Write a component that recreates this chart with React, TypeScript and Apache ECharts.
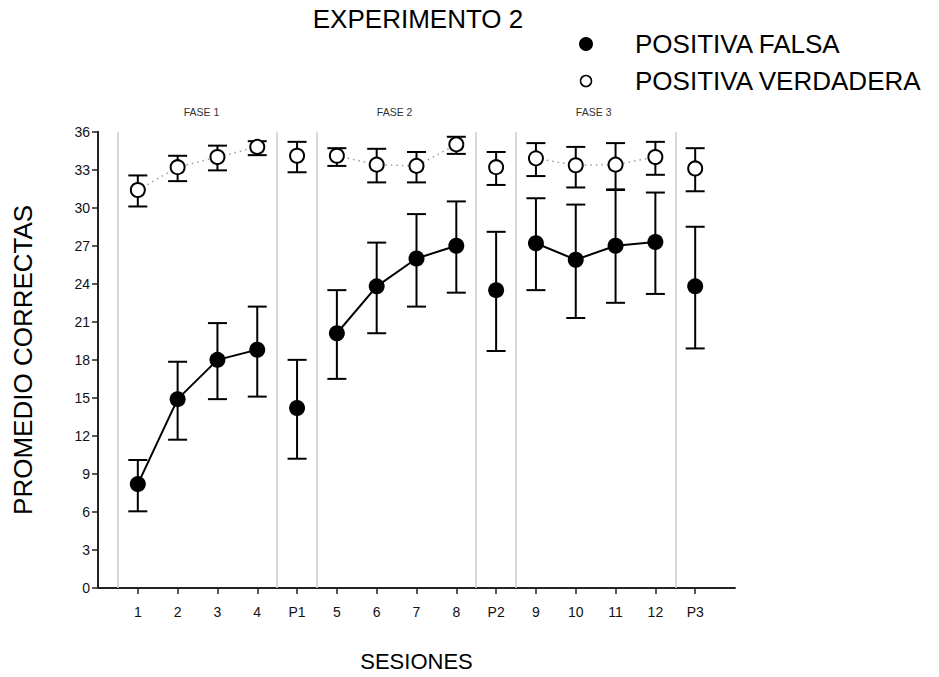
import React, { useEffect, useRef } from "react";
import * as echarts from "echarts";

const CATS = ["1", "2", "3", "4", "P1", "5", "6", "7", "8", "P2", "9", "10", "11", "12", "P3"];
const FALSA_MEAN = [8.2, 14.9, 18.0, 18.8, 14.2, 20.1, 23.8, 26.0, 27.0, 23.5, 27.2, 25.9, 27.0, 27.3, 23.8];
const FALSA_LOW = [6.05, 11.7, 14.9, 15.1, 10.2, 16.5, 20.1, 22.2, 23.3, 18.7, 23.5, 21.3, 22.5, 23.2, 18.9];
const FALSA_HIGH = [10.1, 17.85, 20.9, 22.2, 18.0, 23.5, 27.25, 29.5, 30.5, 28.1, 30.75, 30.25, 31.4, 31.2, 28.5];
const VERD_MEAN = [31.4, 33.2, 34.0, 34.8, 34.1, 34.1, 33.4, 33.3, 35.0, 33.2, 33.9, 33.35, 33.4, 34.0, 33.1];
const VERD_LOW = [30.1, 32.1, 32.95, 34.15, 32.8, 33.3, 32.0, 32.0, 34.25, 31.8, 32.5, 31.6, 31.45, 32.6, 31.3];
const VERD_HIGH = [32.55, 34.1, 34.9, 35.25, 35.2, 34.7, 34.65, 34.4, 35.6, 34.4, 35.1, 34.8, 35.1, 35.2, 34.7];
const SEPARATORS = [0.5, 4.5, 5.5, 9.5, 10.5, 14.5];
const PHASES = ["FASE 1", "FASE 2", "FASE 3"];
const PHASE_POS = [2.6, 7.45, 12.45];
const Y_TICKS = [0, 36, 3];

const FONT = "'Liberation Sans', Arial, Helvetica, sans-serif";
const GRID = { left: 98, right: 204, top: 131.7, bottom: 83.7 };
const W = 939;
const H = 677;
const X_MAX = 16;

export default function App() {
  const ref = useRef<HTMLDivElement>(null);
  useEffect(() => {
    if (!ref.current) return;
    const chart = echarts.init(ref.current, null, { renderer: "svg" });
    const xs = CATS.map((_, i) => i + 1);
    const isProbe = (c: string) => c.startsWith("P");
    const plotW = W - GRID.left - GRID.right;
    const xPix = (v: number) => GRID.left + (v * plotW) / X_MAX;

    const errRender = (params: any, api: any) => {
      const x = api.value(0);
      const lo = api.coord([x, api.value(1)]);
      const hi = api.coord([x, api.value(2)]);
      const cw = 9.5;
      const st = { stroke: "#000", lineWidth: 2 };
      return {
        type: "group",
        children: [
          { type: "line", shape: { x1: lo[0], y1: lo[1], x2: hi[0], y2: hi[1] }, style: st },
          { type: "line", shape: { x1: lo[0] - cw, y1: lo[1], x2: lo[0] + cw, y2: lo[1] }, style: st },
          { type: "line", shape: { x1: hi[0] - cw, y1: hi[1], x2: hi[0] + cw, y2: hi[1] }, style: st },
        ],
      };
    };

    const option: any = {
      animation: false,
      backgroundColor: "#fff",
      grid: { left: GRID.left, right: GRID.right, top: GRID.top, bottom: GRID.bottom, containLabel: false },
      xAxis: {
        type: "value",
        min: 0,
        max: X_MAX,
        interval: 1,
        splitLine: { show: false },
        axisLine: { show: true, lineStyle: { color: "#222", width: 2 } },
        axisTick: { show: true, customValues: xs, length: 6, lineStyle: { color: "#222", width: 1.5 } },
        axisLabel: {
          customValues: xs,
          formatter: (v: number) => CATS[Math.round(v) - 1] ?? "",
          fontFamily: FONT,
          fontSize: 14,
          color: "#111",
          margin: 17,
        },
        name: "SESIONES",
        nameLocation: "middle",
        nameGap: 62,
        nameTextStyle: { fontFamily: FONT, fontSize: 22, color: "#000" },
      },
      yAxis: {
        type: "value",
        min: Y_TICKS[0],
        max: Y_TICKS[1],
        interval: Y_TICKS[2],
        splitLine: { show: false },
        axisLine: { show: true, lineStyle: { color: "#222", width: 2 } },
        axisTick: { show: true, length: 6, lineStyle: { color: "#222", width: 1.5 } },
        axisLabel: { fontFamily: FONT, fontSize: 14, color: "#111", margin: 8 },
        name: "PROMEDIO CORRECTAS",
        nameLocation: "middle",
        nameGap: 62,
        nameTextStyle: { fontFamily: FONT, fontSize: 26, color: "#000" },
      },
      series: [
        {
          type: "line",
          name: "sep",
          data: [],
          silent: true,
          markLine: {
            silent: true,
            symbol: "none",
            label: { show: false },
            lineStyle: { color: "#cfcfcf", width: 1.6, type: "solid" },
            data: SEPARATORS.map((s) => ({ xAxis: s })),
          },
          z: 1,
        },
        {
          type: "line",
          name: "verdLine",
          data: xs.map((x, i) => [x, isProbe(CATS[i]) ? "-" : VERD_MEAN[i]]),
          showSymbol: false,
          symbol: "none",
          connectNulls: false,
          lineStyle: { color: "#9a9a9a", width: 1.5, type: [1.5, 4] },
          z: 2,
        },
        {
          type: "line",
          name: "falsaLine",
          data: xs.map((x, i) => [x, isProbe(CATS[i]) ? "-" : FALSA_MEAN[i]]),
          showSymbol: false,
          symbol: "none",
          connectNulls: false,
          lineStyle: { color: "#000", width: 2 },
          z: 2,
        },
        {
          type: "custom",
          name: "verdErr",
          renderItem: errRender,
          data: xs.map((x, i) => [x, VERD_LOW[i], VERD_HIGH[i]]),
          encode: { x: 0, y: [1, 2] },
          z: 3,
        },
        {
          type: "custom",
          name: "falsaErr",
          renderItem: errRender,
          data: xs.map((x, i) => [x, FALSA_LOW[i], FALSA_HIGH[i]]),
          encode: { x: 0, y: [1, 2] },
          z: 3,
        },
        {
          type: "scatter",
          name: "POSITIVA VERDADERA",
          data: xs.map((x, i) => [x, VERD_MEAN[i]]),
          symbol: "circle",
          symbolSize: 14,
          itemStyle: { color: "#fff", borderColor: "#000", borderWidth: 2, opacity: 1 },
          z: 5,
        },
        {
          type: "scatter",
          name: "POSITIVA FALSA",
          data: xs.map((x, i) => [x, FALSA_MEAN[i]]),
          symbol: "circle",
          symbolSize: 16,
          itemStyle: { color: "#000", opacity: 1 },
          z: 5,
        },
      ],
      graphic: [
        {
          type: "text",
          x: 418,
          y: 19,
          style: { text: "EXPERIMENTO 2", font: `26px ${FONT}`, fill: "#000", align: "center", verticalAlign: "middle" },
        },
        { type: "circle", shape: { cx: 586, cy: 44, r: 7 }, style: { fill: "#000" } },
        {
          type: "text",
          x: 635,
          y: 44,
          style: { text: "POSITIVA FALSA", font: `26px ${FONT}`, fill: "#000", align: "left", verticalAlign: "middle" },
        },
        { type: "circle", shape: { cx: 586, cy: 81, r: 5.5 }, style: { fill: "#fff", stroke: "#000", lineWidth: 1.5 } },
        {
          type: "text",
          x: 635,
          y: 81,
          style: { text: "POSITIVA VERDADERA", font: `26px ${FONT}`, fill: "#000", align: "left", verticalAlign: "middle" },
        },
        ...PHASES.map((p, i) => ({
          type: "text",
          x: xPix(PHASE_POS[i]),
          y: 112,
          style: { text: p, font: `10.5px ${FONT}`, fill: "#333", align: "center", verticalAlign: "middle" },
        })),
      ],
    };
    chart.setOption(option);
    return () => chart.dispose();
  }, []);
  return (
    <div
      ref={ref}
      style={{ position: "absolute", left: 0, top: 0, width: W, height: H, background: "#fff" }}
    />
  );
}
